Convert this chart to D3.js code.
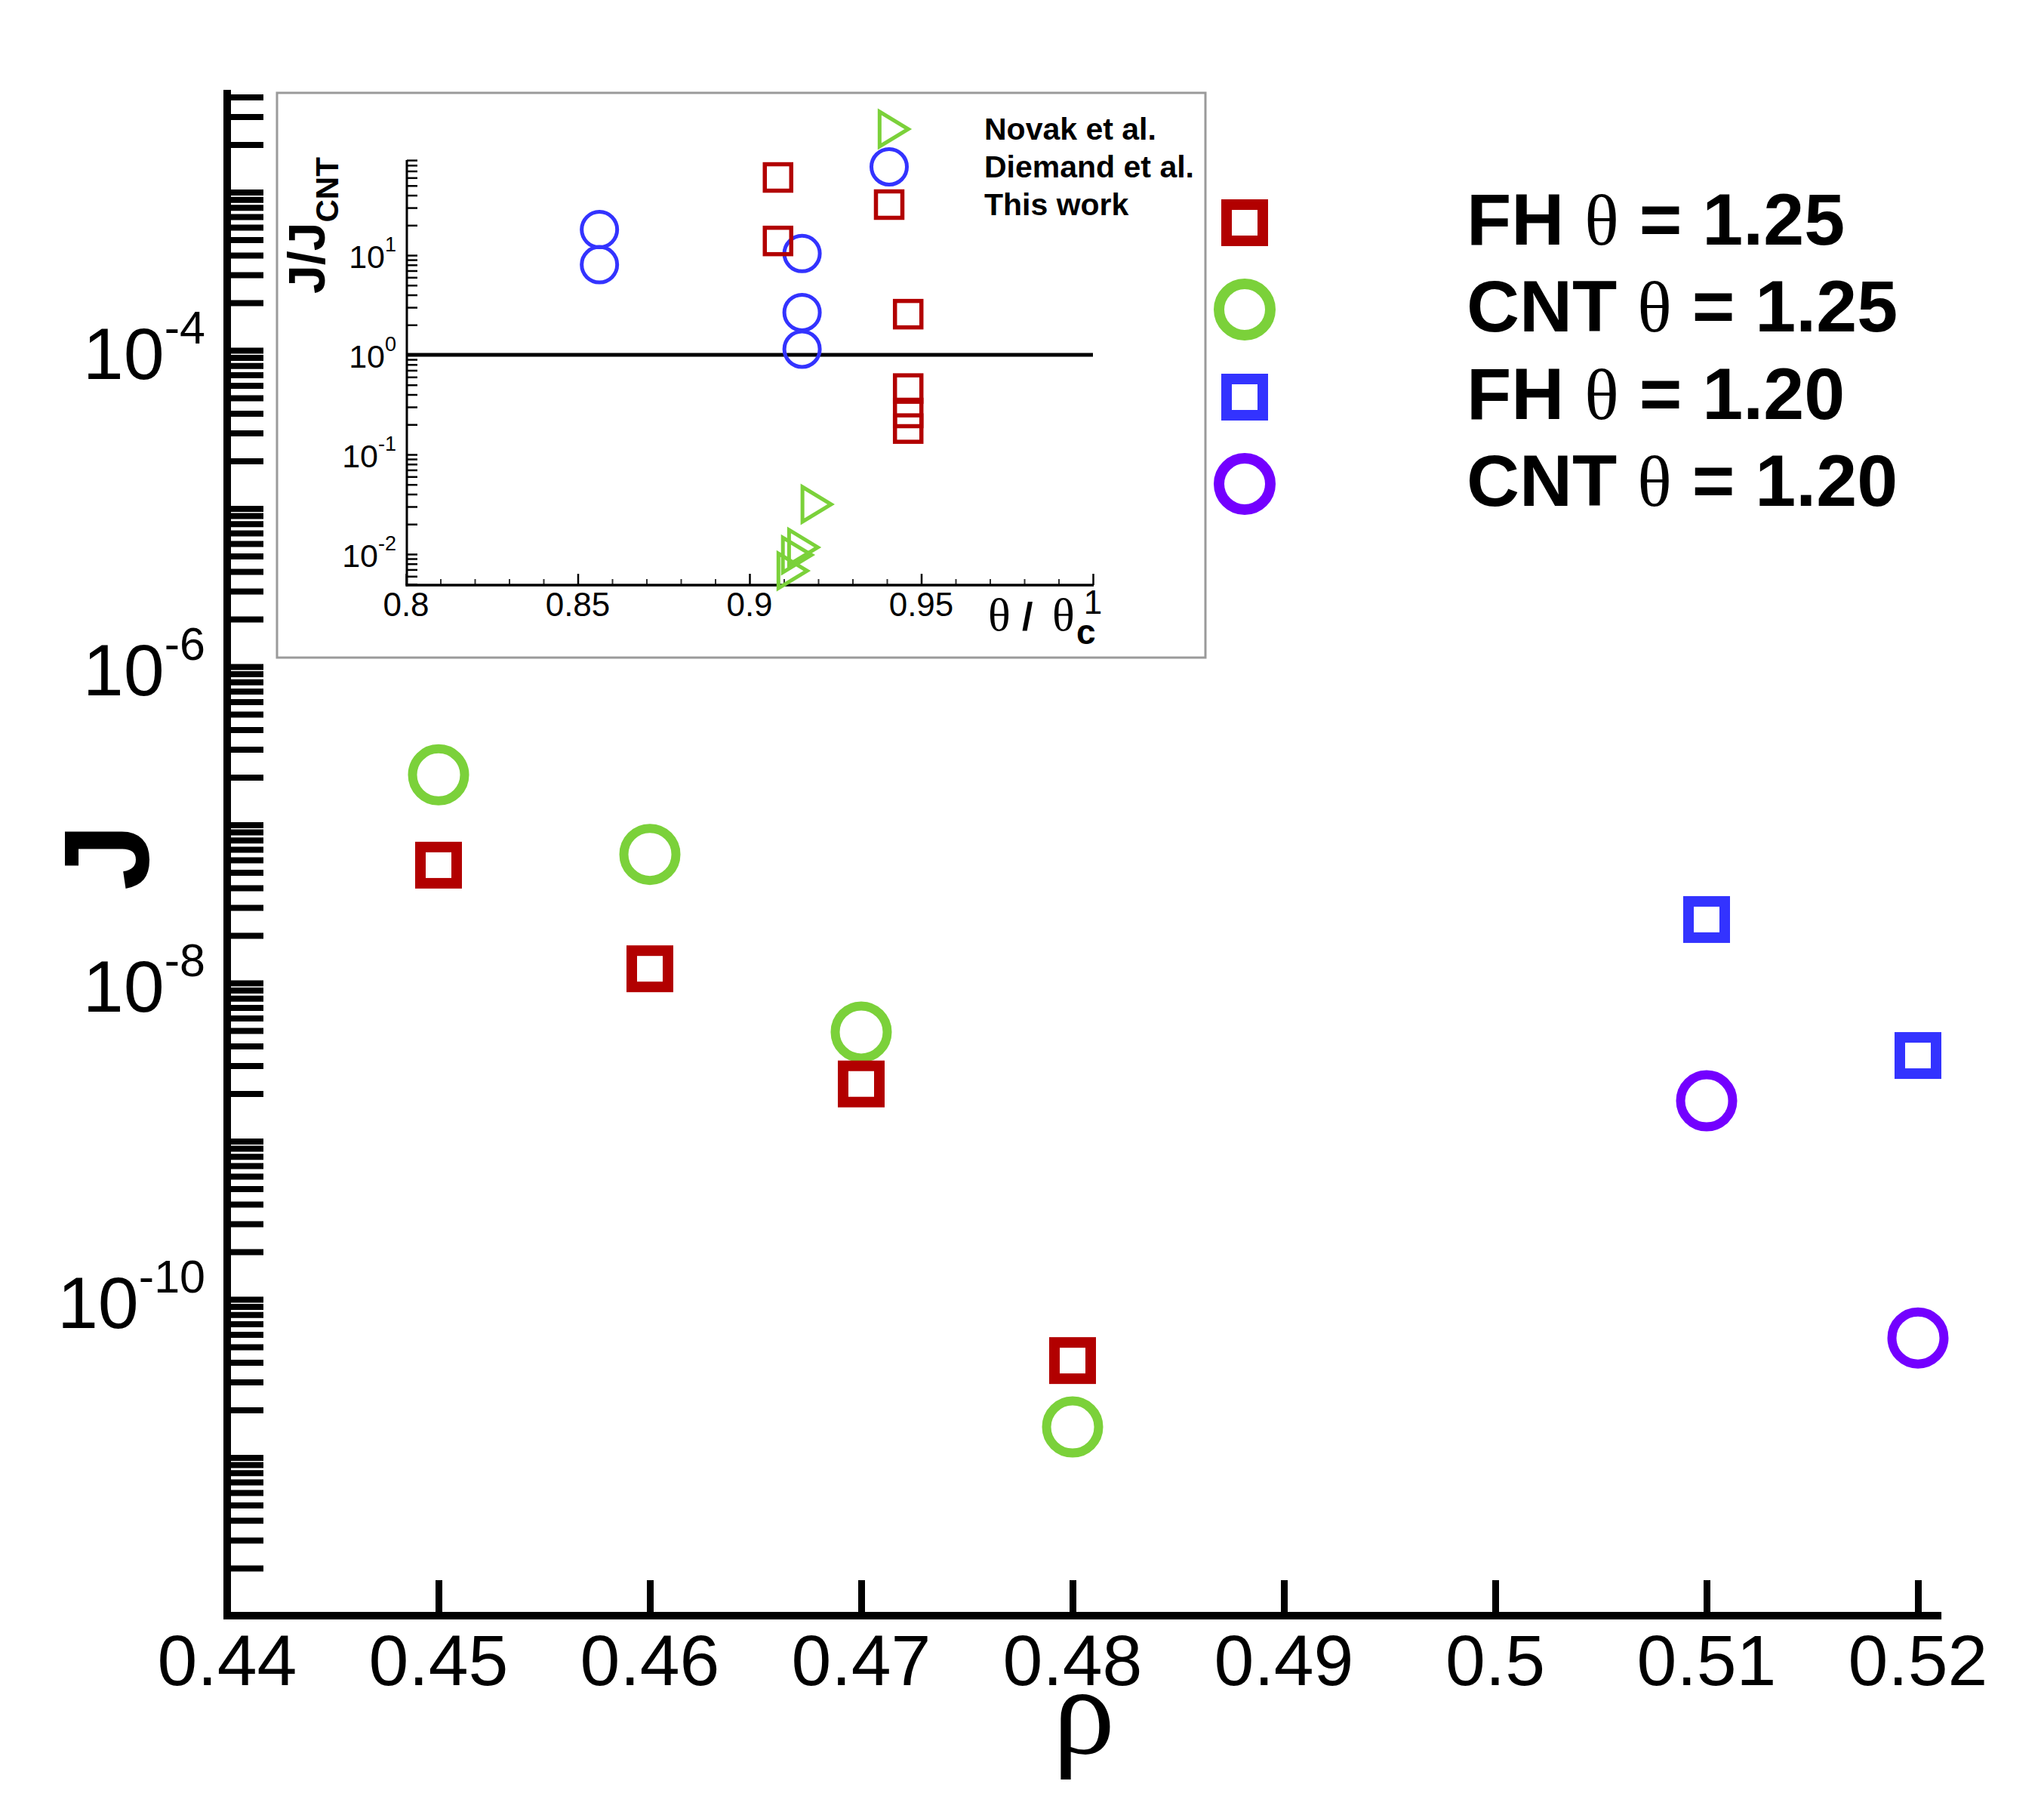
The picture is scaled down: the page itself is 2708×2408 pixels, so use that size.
<!DOCTYPE html>
<html>
<head>
<meta charset="utf-8">
<script src="https://cdn.jsdelivr.net/npm/d3@7"></script>
<style>
  body { margin: 0; background: #fff; }
  text { white-space: pre; }
</style>
</head>
<body>
<div id="chart"></div>
<script>
// main plot data: nucleation rate J vs density rho
var rho125 = [0.45, 0.46, 0.47, 0.48];
var jFH125 = [5.56e-8, 1.23e-8, 2.3e-9, 4.1e-11];
var jCNT125 = [2.07e-7, 6.5e-8, 4.9e-9, 1.56e-11];
var rho120 = [0.51, 0.52];
var jFH120 = [2.52e-8, 3.48e-9];
var jCNT120 = [1.8e-9, 5.7e-11];

var xTicks = [0.44, 0.45, 0.46, 0.47, 0.48, 0.49, 0.5, 0.51, 0.52];
var yLabelExp = [-10, -8, -6, -4];

var legendNames = ["FH", "CNT", "FH", "CNT"];
var legendTheta = ["1.25", "1.25", "1.20", "1.20"];

// inset data: J/J_CNT vs theta/theta_c
var novakTheta = [0.9182, 0.9143, 0.9125, 0.9112];
var novakRatio = [0.0316, 0.0117, 0.0098, 0.0068];
var diemandTheta = [0.8563, 0.8563, 0.9153, 0.9153, 0.9153];
var diemandRatio = [18.1, 8.04, 10.4, 2.66, 1.14];
var thisTheta = [0.9083, 0.9083, 0.9462, 0.9462, 0.9462, 0.9462];
var thisRatio = [60.3, 13.9, 2.56, 0.459, 0.261, 0.182];

var insetXTicks = [0.8, 0.85, 0.9, 0.95, 1];
var insetLabelExp = [-2, -1, 0, 1];
var insetLegend = ["Novak et al.", "Diemand et al.", "This work"];

var RED = "#b20000", GREEN = "#7bd13a", BLUE = "#3333ff", PURPLE = "#7300ff";
var SANS = "'Liberation Sans', Arial, Helvetica, sans-serif";
var SERIF = "'Liberation Serif', 'Times New Roman', serif";

var svg = d3.select("#chart").append("svg")
  .attr("width", 2708)
  .attr("height", 2408);

// scales
var x = d3.scaleLinear().domain([0.44, 0.52]).range([301, 2541]);
var y = d3.scaleLog().domain([1e-12, Math.pow(10, -2.353)]).range([2140, 119]);

function logMinor(scale) {
  var d = scale.domain(), out = [];
  var lo = Math.floor(Math.log10(d[0])), hi = Math.ceil(Math.log10(d[1]));
  for (var n = lo; n <= hi; n++) {
    for (var k = 1; k <= 9; k++) {
      var v = k * Math.pow(10, n);
      if (v >= d[0] * 0.999 && v <= d[1]) out.push(v);
    }
  }
  return out;
}

// ---- main axes ----
var yAxisG = svg.append("g")
  .attr("transform", "translate(306,0)")
  .call(d3.axisRight(y).tickValues(logMinor(y)).tickSize(43).tickFormat(""));
yAxisG.select(".domain").remove();
yAxisG.selectAll("line").attr("stroke", "#000").attr("stroke-width", 8);

var xAxisG = svg.append("g")
  .attr("transform", "translate(0,2136)")
  .call(d3.axisTop(x).tickValues(xTicks.slice(1)).tickSize(43).tickFormat(""));
xAxisG.select(".domain").remove();
xAxisG.selectAll("line").attr("stroke", "#000").attr("stroke-width", 9);

svg.append("line")
  .attr("x1", x(0.44)).attr("x2", x(0.44))
  .attr("y1", y.range()[1]).attr("y2", y.range()[0] + 5)
  .attr("stroke", "#000").attr("stroke-width", 10);
svg.append("line")
  .attr("x1", x(0.44) - 5).attr("x2", x(0.52111))
  .attr("y1", y.range()[0]).attr("y2", y.range()[0])
  .attr("stroke", "#000").attr("stroke-width", 10);

// x tick labels
svg.append("g").selectAll("text")
  .data(xTicks)
  .enter().append("text")
  .attr("x", d => x(d))
  .attr("y", 2232)
  .attr("text-anchor", "middle")
  .attr("font-family", SANS)
  .attr("font-size", 95)
  .text(d => String(+d.toFixed(2)));

// y tick labels 10^n
var yl = svg.append("g").selectAll("text")
  .data(yLabelExp)
  .enter().append("text")
  .attr("x", 272)
  .attr("y", d => y(Math.pow(10, d)) + 38)
  .attr("text-anchor", "end")
  .attr("font-family", SANS);
yl.append("tspan").attr("font-size", 97).text("10");
yl.append("tspan").attr("font-size", 61).attr("dy", -47).text(d => String(d));

// axis titles
svg.append("text")
  .attr("transform", "translate(196,1135) rotate(-90)")
  .attr("text-anchor", "middle")
  .attr("font-family", SANS)
  .attr("font-weight", "bold")
  .attr("font-size", 160)
  .text("J");

svg.append("text")
  .attr("x", 1436)
  .attr("y", 2322)
  .attr("text-anchor", "middle")
  .attr("font-family", SERIF)
  .attr("font-size", 165)
  .text("ρ");

// ---- main markers ----
function squares(g, xs, ys, sx, sy, side, sw, color) {
  g.selectAll(null)
    .data(xs.map((v, i) => [v, ys[i]]))
    .enter().append("rect")
    .attr("x", d => sx(d[0]) - side / 2)
    .attr("y", d => sy(d[1]) - side / 2)
    .attr("width", side).attr("height", side)
    .attr("fill", "none")
    .attr("stroke", color).attr("stroke-width", sw);
}
function circles(g, xs, ys, sx, sy, r, sw, color) {
  g.selectAll(null)
    .data(xs.map((v, i) => [v, ys[i]]))
    .enter().append("circle")
    .attr("cx", d => sx(d[0]))
    .attr("cy", d => sy(d[1]))
    .attr("r", r)
    .attr("fill", "none")
    .attr("stroke", color).attr("stroke-width", sw);
}
function triangles(g, xs, ys, sx, sy, w, h, sw, color) {
  g.selectAll(null)
    .data(xs.map((v, i) => [v, ys[i]]))
    .enter().append("path")
    .attr("d", d => {
      var cx = sx(d[0]), cy = sy(d[1]);
      return "M" + (cx - w / 3) + "," + (cy - h / 2) +
        "L" + (cx + 2 * w / 3) + "," + cy +
        "L" + (cx - w / 3) + "," + (cy + h / 2) + "Z";
    })
    .attr("fill", "none")
    .attr("stroke", color).attr("stroke-width", sw)
    .attr("stroke-linejoin", "miter");
}

var marks = svg.append("g");
circles(marks, rho125, jCNT125, x, y, 34.5, 12, GREEN);
squares(marks, rho125, jFH125, x, y, 48, 14, RED);
squares(marks, rho120, jFH120, x, y, 48, 14, BLUE);
circles(marks, rho120, jCNT120, x, y, 34.5, 12, PURPLE);

// ---- main legend ----
var legColors = [RED, GREEN, BLUE, PURPLE];
var legY = [295, 410, 526, 641];
var leg = svg.append("g");
legendNames.forEach(function(name, i) {
  if (name === "FH") {
    leg.append("rect")
      .attr("x", 1649 - 24).attr("y", legY[i] - 24)
      .attr("width", 48).attr("height", 48)
      .attr("fill", "none").attr("stroke", legColors[i]).attr("stroke-width", 14);
  } else {
    leg.append("circle")
      .attr("cx", 1649).attr("cy", legY[i]).attr("r", 34)
      .attr("fill", "none").attr("stroke", legColors[i]).attr("stroke-width", 14);
  }
  var t = leg.append("text")
    .attr("x", 1943).attr("y", legY[i] + 29)
    .attr("font-family", SANS).attr("font-weight", "bold").attr("font-size", 97);
  t.append("tspan").text(name + " ");
  t.append("tspan").attr("font-family", SERIF).attr("font-weight", "normal").attr("font-size", 95).text("θ");
  t.append("tspan").text(" = " + legendTheta[i]);
});

// ---- inset ----
var inset = svg.append("g");
inset.append("rect")
  .attr("x", 367).attr("y", 123)
  .attr("width", 1230).attr("height", 748)
  .attr("fill", "#fff")
  .attr("stroke", "#9a9a9a").attr("stroke-width", 3);

var ix = d3.scaleLinear().domain([0.8, 1.0]).range([538, 1448]);
var iy = d3.scaleLog().domain([Math.pow(10, -2.311), Math.pow(10, 1.955)]).range([775, 212]);

var iyAxis = inset.append("g")
  .attr("transform", "translate(539,0)")
  .call(d3.axisRight(iy).tickValues(logMinor(iy)).tickSize(14).tickFormat(""));
iyAxis.select(".domain").remove();
iyAxis.selectAll("line").attr("stroke", "#000").attr("stroke-width", 2.5);

var ixMajor = inset.append("g")
  .attr("transform", "translate(0,775)")
  .call(d3.axisTop(ix).tickValues(insetXTicks).tickSize(15).tickFormat(""));
ixMajor.select(".domain").remove();
ixMajor.selectAll("line").attr("stroke", "#000").attr("stroke-width", 2.5);

var ixMinor = inset.append("g")
  .attr("transform", "translate(0,775)")
  .call(d3.axisTop(ix).tickValues(d3.range(81, 100).filter(v => v % 5 !== 0).map(v => v / 100)).tickSize(8).tickFormat(""));
ixMinor.select(".domain").remove();
ixMinor.selectAll("line").attr("stroke", "#333").attr("stroke-width", 2);

inset.append("line")
  .attr("x1", 539).attr("x2", 539)
  .attr("y1", iy.range()[1]).attr("y2", iy.range()[0] + 1.5)
  .attr("stroke", "#000").attr("stroke-width", 3);
inset.append("line")
  .attr("x1", 537.5).attr("x2", ix(1.0) + 1)
  .attr("y1", 775).attr("y2", 775)
  .attr("stroke", "#000").attr("stroke-width", 3.5);

// reference line J/J_CNT = 1
inset.append("line")
  .attr("x1", ix(0.8)).attr("x2", ix(1.0))
  .attr("y1", iy(1)).attr("y2", iy(1))
  .attr("stroke", "#000").attr("stroke-width", 5);

// inset tick labels
inset.selectAll(null)
  .data(insetXTicks)
  .enter().append("text")
  .attr("x", d => ix(d))
  .attr("y", d => d === 1 ? 813 : 816)
  .attr("text-anchor", "middle")
  .attr("font-family", SANS)
  .attr("font-size", 44)
  .text(d => String(d));

var iyl = inset.selectAll(null)
  .data(insetLabelExp)
  .enter().append("text")
  .attr("x", 525)
  .attr("y", d => iy(Math.pow(10, d)) + 17)
  .attr("text-anchor", "end")
  .attr("font-family", SANS);
iyl.append("tspan").attr("font-size", 43).text("10");
iyl.append("tspan").attr("font-size", 27).attr("dy", -22).text(d => String(d));

// inset axis titles
var ixt = inset.append("text")
  .attr("y", 835)
  .attr("font-family", SERIF)
  .attr("font-size", 62);
ixt.append("tspan").attr("x", 1309).text("θ");
ixt.append("tspan").attr("x", 1354).attr("font-family", SANS).attr("font-weight", "bold").attr("font-size", 52).text("/");
ixt.append("tspan").attr("x", 1394).text("θ");
ixt.append("tspan").attr("x", 1426).attr("dy", 18).attr("font-family", SANS).attr("font-weight", "bold").attr("font-size", 46).text("c");

var iyt = inset.append("text")
  .attr("transform", "translate(430,389) rotate(-90)")
  .attr("font-family", SANS)
  .attr("font-weight", "bold");
iyt.append("tspan").attr("font-size", 68).text("J/J");
iyt.append("tspan").attr("font-size", 42).attr("dy", 18).text("CNT");

// inset markers
var imarks = inset.append("g");
triangles(imarks, novakTheta, novakRatio, ix, iy, 38, 46, 5, GREEN);
circles(imarks, diemandTheta, diemandRatio, ix, iy, 23.5, 5, BLUE);
squares(imarks, thisTheta, thisRatio, ix, iy, 35, 5.5, RED);

// inset legend
var ilegY = [171, 221, 271];
var ileg = inset.append("g");
triangles(ileg, [0], [0], function() { return 1178; }, function() { return ilegY[0]; }, 38, 46, 5, GREEN);
ileg.append("circle").attr("cx", 1178).attr("cy", ilegY[1]).attr("r", 23.5)
  .attr("fill", "none").attr("stroke", BLUE).attr("stroke-width", 5);
ileg.append("rect").attr("x", 1178 - 17.5).attr("y", ilegY[2] - 17.5)
  .attr("width", 35).attr("height", 35)
  .attr("fill", "none").attr("stroke", RED).attr("stroke-width", 5.5);
ileg.selectAll("text")
  .data(insetLegend)
  .enter().append("text")
  .attr("x", 1304)
  .attr("y", (d, i) => ilegY[i] + 14)
  .attr("font-family", SANS)
  .attr("font-weight", "bold")
  .attr("font-size", 41)
  .text(d => d);
</script>
</body>
</html>
